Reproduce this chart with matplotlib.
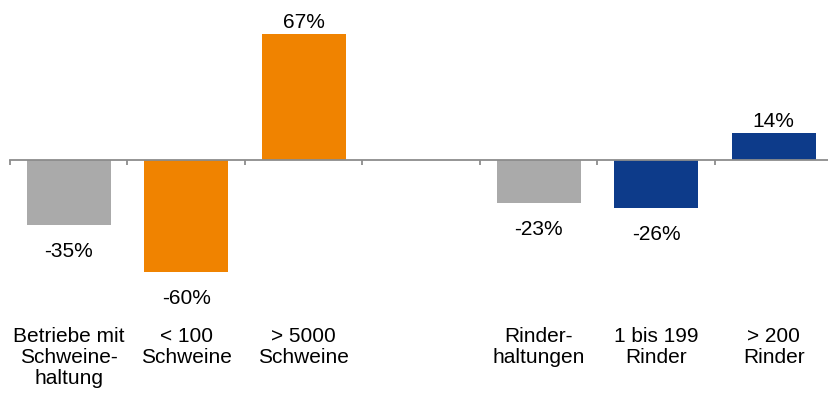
import numpy as np
import matplotlib.pyplot as plt

plt.rcParams['font.family'] = ['Liberation Sans', 'DejaVu Sans']

categories = ["Betriebe mit\nSchweine-\nhaltung", "< 100\nSchweine", "> 5000\nSchweine", "",
              "Rinder-\nhaltungen", "1 bis 199\nRinder", "> 200\nRinder"]
values = [-35, -60, 67, np.nan, -23, -26, 14]
colors = ["#AAAAAA", "#F08300", "#F08300", "#FFFFFF", "#AAAAAA", "#0D3B8A", "#0D3B8A"]

W, H = 829, 394
fig = plt.figure(figsize=(W / 100, H / 100), dpi=100)
ax = fig.add_axes([10 / W, 0, 822.5 / W, 1])

x = np.arange(len(categories))
ax.bar(x, values, width=0.715, color=colors, zorder=1)

ax.set_xlim(-0.5, len(categories) - 0.5)
ax.set_ylim(-(H - 159.5) / 1.88, 159.5 / 1.88)

# axis line at zero with boundary ticks
for s in ["top", "right", "left"]:
    ax.spines[s].set_visible(False)
ax.spines["bottom"].set_position(("data", 0))
ax.spines["bottom"].set_color("#8C8C8C")
ax.spines["bottom"].set_linewidth(1.3)
ax.spines["bottom"].set_zorder(3)
ax.set_xticks(x - 0.5)
ax.set_xticklabels([])
ax.tick_params(axis="x", direction="out", length=3.8, width=1.3, color="#8C8C8C")
ax.set_yticks([])

for xi, v in zip(x, values):
    if np.isnan(v):
        continue
    if v >= 0:
        ax.annotate(f"{v:.0f}%", (xi, v), xytext=(0, 2), textcoords="offset pixels",
                    ha="center", va="bottom", fontsize=15)
    else:
        ax.annotate(f"{v:.0f}%", (xi, v), xytext=(0, -17), textcoords="offset pixels",
                    ha="center", va="top", fontsize=15)

for xi, lab in zip(x, categories):
    ax.text(xi, 1 - 327 / H, lab, transform=ax.get_xaxis_transform(),
            ha="center", va="top", fontsize=15, linespacing=1.12)

fig.savefig("out.png", dpi=100)
